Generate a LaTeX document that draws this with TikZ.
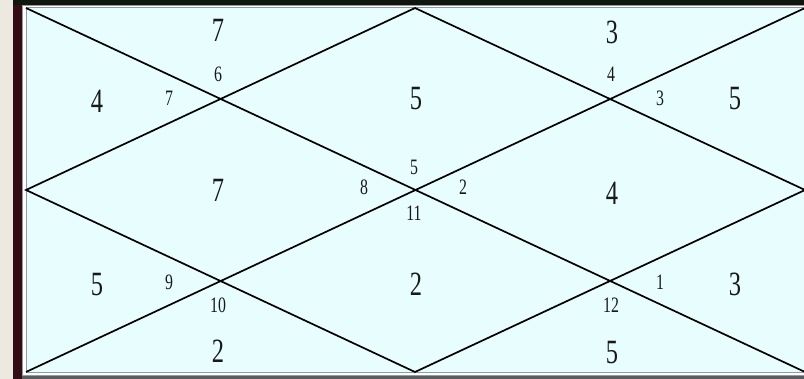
\documentclass[tikz,border=0pt]{standalone}
\usepackage{fontspec}
\newfontfamily\chartfont[FakeStretch=0.72]{Liberation Serif}
\usetikzlibrary{positioning,calc}
\definecolor{chartbg}{RGB}{232,253,253}
\definecolor{pagebg}{RGB}{236,233,224}
\definecolor{framedark}{RGB}{52,12,22}
\definecolor{topband}{RGB}{14,22,14}
\definecolor{framegray}{RGB}{150,155,160}
\definecolor{numcol}{RGB}{25,25,25}

\begin{document}
\begin{tikzpicture}[
    x=1pt, y=-1pt,
    chartline/.style={draw=black, line width=1.7pt},
    signnum/.style={font=\chartfont\fontsize{34}{34}\selectfont, text=numcol, inner sep=0pt},
    housenum/.style={font=\chartfont\fontsize{22}{22}\selectfont, text=numcol, inner sep=0pt},
]
\useasboundingbox (0,0) rectangle (804,379);

% ============ WINDOW FRAME ============
\fill[pagebg] (0,0) rectangle (13,379);
\fill[framedark] (13,0) rectangle (22,379);
\fill[topband] (13,0) rectangle (804,5);
\fill[framegray!60!black] (22,376) rectangle (804,379);
\draw[framegray, fill=white, line width=1pt] (22.5,5.5) rectangle (806,376);
\draw[framegray, fill=chartbg, line width=1pt] (26,8) rectangle (806,372.5);

% ============ CHART GRID ============
\coordinate (tl) at (26,8);
\coordinate (tr) at (805,8);
\coordinate (br) at (805,372);
\coordinate (bl) at (26,372);
\coordinate (tm) at (415,8);
\coordinate (rm) at (805,190);
\coordinate (bm) at (415,372);
\coordinate (lm) at (26,190);

\draw[chartline] (tl) -- (br);
\draw[chartline] (tr) -- (bl);
\draw[chartline] (tm) -- (rm) -- (bm) -- (lm) -- cycle;

% ============ SIGN NUMBERS (houses) ============
\node[signnum] (h1)  at (416,99)  {5};
\node[signnum] (h2)  at (218,30)  {7};
\node[signnum] (h3)  at (97,101)  {4};
\node[signnum] (h4)  at (218,190) {7};
\node[signnum] (h5)  at (97,285)  {5};
\node[signnum] (h6)  at (218,351) {2};
\node[signnum] (h7)  at (416,284) {2};
\node[signnum] (h8)  at (612,353) {5};
\node[signnum] (h9)  at (735,284) {3};
\node[signnum] (h10) at (612,193) {4};
\node[signnum] (h11) at (735,99)  {5};
\node[signnum] (h12) at (612,32)  {3};

% ============ HOUSE NUMBERS ============
\node[housenum] (n6)  at (218,74)  {6};
\node[housenum] (n7)  at (169,98)  {7};
\node[housenum] (n4)  at (611,74)  {4};
\node[housenum] (n3)  at (660,98)  {3};
\node[housenum] (n5)  at (414,167) {5};
\node[housenum] (n8)  at (364,187) {8};
\node[housenum] (n2)  at (463,187) {2};
\node[housenum] (n11) at (414,213) {11};
\node[housenum] (n9)  at (169,282) {9};
\node[housenum] (n10) at (218,305) {10};
\node[housenum] (n12) at (611,305) {12};
\node[housenum] (n1)  at (660,282) {1};

\end{tikzpicture}
\end{document}
